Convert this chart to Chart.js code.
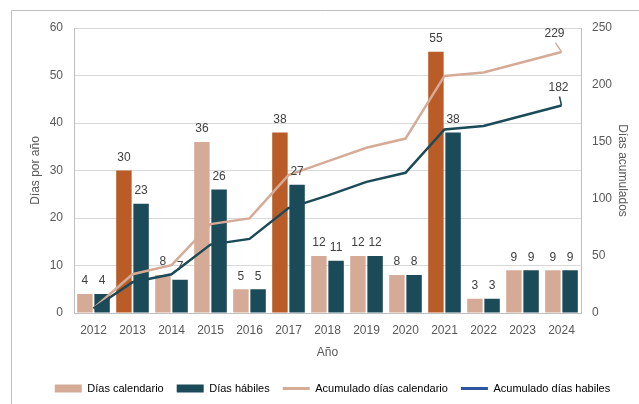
<!DOCTYPE html>
<html>
<head>
<meta charset="utf-8">
<script src="https://cdn.jsdelivr.net/npm/chart.js@4.4.1/dist/chart.umd.min.js"></script>
<style>
  html, body { margin: 0; padding: 0; background: #fff; }
  #wrap { width: 639px; height: 404px; }
</style>
</head>
<body>
<div id="wrap"><canvas id="grafica"></canvas></div>
<script>
// Datos
const anios = ['2012', '2013', '2014', '2015', '2016', '2017', '2018', '2019', '2020', '2021', '2022', '2023', '2024'];
const diasCalendario = [4, 30, 8, 36, 5, 38, 12, 12, 8, 55, 3, 9, 9];
const diasHabiles = [4, 23, 7, 26, 5, 27, 11, 12, 8, 38, 3, 9, 9];
const acumuladoCalendario = [4, 34, 42, 78, 83, 121, 133, 145, 153, 208, 211, 220, 229];
const acumuladoHabiles = [4, 27, 34, 60, 65, 92, 103, 115, 123, 161, 164, 173, 182];
const aniosDestacados = ['2013', '2017', '2021'];
const ticksIzq = [0, 10, 20, 30, 40, 50, 60];
const ticksDer = [0, 50, 100, 150, 200, 250];

const TAN = '#d5ab97';
const NARANJA = '#b95c27';
const TEAL = '#1b4a58';
const AZUL = '#2e55a0';
const FUENTE = '"Liberation Sans", Arial, sans-serif';

const coloresCalendario = anios.map(a => aniosDestacados.includes(a) ? NARANJA : TAN);

// marco exterior y etiquetas de datos
const marco = {
  id: 'marco',
  beforeDraw(chart) {
    const c = chart.ctx;
    c.save();
    c.fillStyle = '#fff';
    c.fillRect(0, 0, chart.width, chart.height);
    c.strokeStyle = '#bfbfbf';
    c.lineWidth = 1;
    c.beginPath();
    c.moveTo(11.5, chart.height);
    c.lineTo(11.5, 10.5);
    c.lineTo(chart.width, 10.5);
    c.stroke();
    c.restore();
  }
};

const etiquetas = {
  id: 'etiquetas',
  afterDatasetsDraw(chart) {
    const c = chart.ctx;
    c.save();
    c.font = '12px ' + FUENTE;
    c.fillStyle = '#404040';
    c.textAlign = 'center';
    c.textBaseline = 'middle';
    [0, 1].forEach(i => {
      chart.getDatasetMeta(i).data.forEach((bar, j) => {
        c.fillText(chart.data.datasets[i].data[j], bar.x, bar.y - 13);
      });
    });
    // ultimo punto de las lineas
    [[2, TAN, -6, -9], [3, TEAL, -2, -9]].forEach(([i, col, dx, dy]) => {
      const pts = chart.getDatasetMeta(i).data;
      const p = pts[pts.length - 1];
      const val = chart.data.datasets[i].data[pts.length - 1];
      c.strokeStyle = col;
      c.lineWidth = 1.5;
      c.beginPath();
      c.moveTo(p.x, p.y);
      c.lineTo(p.x + dx, p.y + dy);
      c.stroke();
      c.fillStyle = '#404040';
      c.fillText(val, p.x + dx - 1, p.y + dy - 9);
    });
    c.restore();
  }
};

const ctx = document.getElementById('grafica').getContext('2d');
new Chart(ctx, {
  data: {
    labels: anios,
    datasets: [
      {
        type: 'bar',
        label: 'Días calendario',
        data: diasCalendario,
        backgroundColor: coloresCalendario,
        yAxisID: 'y',
        order: 2,
        barPercentage: 0.9,
        categoryPercentage: 0.88
      },
      {
        type: 'bar',
        label: 'Días hábiles',
        data: diasHabiles,
        backgroundColor: TEAL,
        yAxisID: 'y',
        order: 2,
        barPercentage: 0.9,
        categoryPercentage: 0.88
      },
      {
        type: 'line',
        label: 'Acumulado días calendario',
        data: acumuladoCalendario,
        borderColor: TAN,
        borderWidth: 2.5,
        pointRadius: 0,
        tension: 0,
        yAxisID: 'y1',
        order: 1
      },
      {
        type: 'line',
        label: 'Acumulado días habiles',
        data: acumuladoHabiles,
        borderColor: TEAL,
        borderWidth: 2.5,
        pointRadius: 0,
        tension: 0,
        yAxisID: 'y1',
        order: 0
      }
    ]
  },
  options: {
    responsive: true,
    maintainAspectRatio: false,
    animation: false,
    layout: { padding: { top: 28, bottom: 0, left: 26, right: 0 } },
    plugins: {
      tooltip: { enabled: false },
      legend: {
        position: 'bottom',
        labels: {
          usePointStyle: true,
          pointStyleWidth: 27,
          boxHeight: 8,
          padding: 13,
          color: '#595959',
          font: { family: FUENTE, size: 11 },
          generateLabels: () => [
            { text: 'Días calendario', fillStyle: TAN, strokeStyle: TAN, lineWidth: 0, pointStyle: 'rect', datasetIndex: 0 },
            { text: 'Días hábiles', fillStyle: TEAL, strokeStyle: TEAL, lineWidth: 0, pointStyle: 'rect', datasetIndex: 1 },
            { text: 'Acumulado días calendario', fillStyle: TAN, strokeStyle: TAN, lineWidth: 3, pointStyle: 'line', datasetIndex: 2 },
            { text: 'Acumulado días habiles', fillStyle: AZUL, strokeStyle: AZUL, lineWidth: 3, pointStyle: 'line', datasetIndex: 3 }
          ]
        }
      }
    },
    scales: {
      x: {
        grid: { display: false },
        border: { color: '#bfbfbf' },
        ticks: { color: '#595959', font: { family: FUENTE, size: 12 }, padding: 2, maxRotation: 0 },
        title: { display: true, text: 'Año', color: '#595959', font: { family: FUENTE, size: 12 }, padding: { top: 4, bottom: 10 } },
        afterFit(scale) { scale.height = 57; }
      },
      y: {
        position: 'left',
        min: 0,
        max: 60,
        afterBuildTicks(scale) { scale.ticks = ticksIzq.map(v => ({ value: v })); },
        grid: { color: '#d9d9d9', drawTicks: false },
        border: { color: '#bfbfbf' },
        ticks: { color: '#595959', font: { family: FUENTE, size: 12 }, padding: 11 },
        title: { display: true, text: 'Días por año', color: '#595959', font: { family: FUENTE, size: 12 }, padding: { top: 2, bottom: 0 } },
        afterFit(scale) { scale.width = 48; }
      },
      y1: {
        position: 'right',
        min: 0,
        max: 250,
        afterBuildTicks(scale) { scale.ticks = ticksDer.map(v => ({ value: v })); },
        grid: { display: false, drawTicks: false },
        border: { color: '#bfbfbf' },
        ticks: { color: '#595959', font: { family: FUENTE, size: 12 }, padding: 11 },
        title: { display: true, text: 'Días acumulados', color: '#595959', font: { family: FUENTE, size: 12 }, padding: { top: 9, bottom: 0 } },
        afterFit(scale) { scale.width = 58; }
      }
    }
  },
  plugins: [marco, etiquetas]
});
</script>
</body>
</html>
